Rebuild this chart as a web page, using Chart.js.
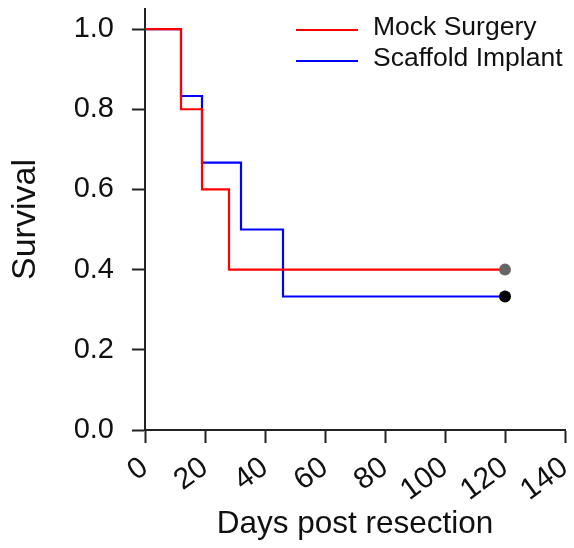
<!DOCTYPE html>
<html>
<head>
<meta charset="utf-8">
<title>Survival</title>
<script src="https://cdn.jsdelivr.net/npm/chart.js@4.4.1/dist/chart.umd.min.js"></script>
<style>
  html, body { margin: 0; padding: 0; background: #fff; }
  #wrap { width: 574px; height: 548px; }
</style>
</head>
<body>
<div id="wrap"><canvas id="survivalChart"></canvas></div>
<script>
// Kaplan-Meier curves
const seriesNames = ['Mock Surgery', 'Scaffold Implant'];
const mockDays = [0, 12, 19, 28, 120];
const mockSurvival = [1.0, 0.8, 0.6, 0.4, 0.4];
const scaffoldDays = [0, 12, 19, 32, 46, 120];
const scaffoldSurvival = [1.0, 0.833, 0.667, 0.5, 0.333, 0.333];
const xTicks = [0, 20, 40, 60, 80, 100, 120, 140];
const yTicks = [0, 0.2, 0.4, 0.6, 0.8, 1.0];

const FONT = '"Liberation Sans", Arial, sans-serif';
const INK = '#111';

function toPoints(days, surv) {
  return days.map((d, i) => ({ x: d, y: surv[i] }));
}

// only the last (censored) point gets a marker
function endMarker(n, r) {
  return Array.from({ length: n }, (_, i) => (i === n - 1 ? r : 0));
}

// legend sits inside the plot, top right
const insetLegend = {
  id: 'insetLegend',
  afterDatasetsDraw(chart) {
    const ctx = chart.ctx;
    chart.data.datasets.forEach((ds, i) => {
      const y = 30 + i * 31;
      ctx.save();
      ctx.strokeStyle = ds.borderColor;
      ctx.lineWidth = 2;
      ctx.beginPath();
      ctx.moveTo(296, y);
      ctx.lineTo(358, y);
      ctx.stroke();
      ctx.fillStyle = INK;
      ctx.font = '26.5px ' + FONT;
      ctx.textBaseline = 'middle';
      ctx.fillText(ds.label, 373, y - 2);
      ctx.restore();
    });
  },
};

function createSurvivalChart() {
  const ctx = document.getElementById('survivalChart').getContext('2d');
  new Chart(ctx, {
    type: 'line',
    data: {
      datasets: [
        {
          label: seriesNames[0],
          data: toPoints(mockDays, mockSurvival),
          borderColor: '#ff0000',
          borderWidth: 2.2,
          stepped: 'before',
          fill: false,
          pointRadius: endMarker(mockDays.length, 6),
          pointBackgroundColor: '#666666',
          pointBorderWidth: 0,
        },
        {
          label: seriesNames[1],
          data: toPoints(scaffoldDays, scaffoldSurvival),
          borderColor: '#0000ff',
          borderWidth: 2.2,
          stepped: 'before',
          fill: false,
          pointRadius: endMarker(scaffoldDays.length, 6),
          pointBackgroundColor: '#000000',
          pointBorderWidth: 0,
        },
      ],
    },
    options: {
      responsive: true,
      maintainAspectRatio: false,
      animation: false,
      layout: { padding: { top: 9, right: 9, left: 0, bottom: 0 } },
      plugins: {
        legend: { display: false },
        tooltip: { enabled: false },
      },
      scales: {
        x: {
          type: 'linear',
          min: 0,
          max: 140,
          border: { display: true, color: '#222', width: 2 },
          grid: {
            drawOnChartArea: false,
            drawTicks: true,
            tickLength: 13,
            tickWidth: 2,
            tickColor: '#222',
          },
          ticks: {
            font: { family: FONT, size: 30 },
            color: INK,
            autoSkip: false,
            minRotation: 36,
            maxRotation: 36,
            padding: 7,
          },
          title: {
            display: true,
            text: 'Days post resection',
            font: { family: FONT, size: 31.5 },
            color: INK,
            padding: { top: 0, bottom: 5 },
          },
          afterBuildTicks: (scale) => {
            scale.ticks = xTicks.map((v) => ({ value: v }));
          },
          afterFit: (scale) => {
            scale.height = 118;
            scale.paddingLeft = 0;
            scale.paddingRight = 0;
          },
        },
        y: {
          type: 'linear',
          min: 0,
          max: 1.05,
          border: { display: true, color: '#222', width: 2 },
          grid: {
            drawOnChartArea: false,
            drawTicks: true,
            tickLength: 13,
            tickWidth: 2,
            tickColor: '#222',
          },
          ticks: {
            font: { family: FONT, size: 29 },
            color: INK,
            autoSkip: false,
            padding: 18,
            callback: (v) => v.toFixed(1),
          },
          title: {
            display: true,
            text: 'Survival',
            font: { family: FONT, size: 34 },
            color: INK,
            padding: { top: 5, bottom: 0 },
          },
          afterBuildTicks: (scale) => {
            scale.ticks = yTicks.map((v) => ({ value: v }));
          },
          afterFit: (scale) => {
            scale.width = 145;
            scale.paddingTop = 0;
            scale.paddingBottom = 0;
          },
        },
      },
    },
    plugins: [insetLegend],
  });
}

document.addEventListener('DOMContentLoaded', createSurvivalChart);
</script>
</body>
</html>
